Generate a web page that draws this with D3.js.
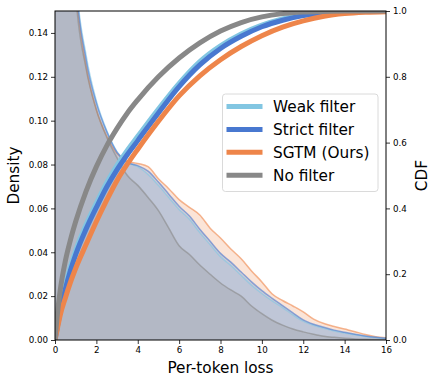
<!DOCTYPE html>
<html>
<head>
<meta charset="utf-8">
<script src="https://cdn.jsdelivr.net/npm/d3@7"></script>
<style>
  body { margin: 0; background: #fff; }
  svg { font-family: "DejaVu Sans", sans-serif; }
</style>
</head>
<body>
<svg id="chart" width="436" height="383"></svg>
<script>
// DATA
const seriesNames = ['Weak filter', 'Strict filter', 'SGTM (Ours)', 'No filter'];
const seriesColors = ['#82c6e2', '#4878d0', '#ee854a', '#888888'];

// density curves (left axis)
const lossGrid = [0, 0.5, 1, 1.5, 2, 2.5, 3, 3.5, 4, 4.5, 5, 5.5, 6, 6.5, 7, 7.5, 8,
    8.5, 9, 9.5, 10, 10.5, 11, 11.5, 12, 12.5, 13, 13.5, 14, 14.5, 15, 15.5, 16];
const densWeak = [0.62, 0.29, 0.167, 0.13, 0.109, 0.0955, 0.0858, 0.081, 0.079, 0.0755, 0.0705,
    0.065, 0.0595, 0.055, 0.049, 0.0435, 0.038, 0.034, 0.0295, 0.025, 0.0212, 0.0178, 0.0148,
    0.0115, 0.0086, 0.0067, 0.0053, 0.0041, 0.0032, 0.0024, 0.0016, 0.0011, 0.0007];
const densStrict = [0.6, 0.28, 0.165, 0.128, 0.108, 0.095, 0.0855, 0.081, 0.0795, 0.077, 0.072,
    0.0665, 0.061, 0.0565, 0.0505, 0.045, 0.0395, 0.0355, 0.031, 0.0265, 0.0225, 0.019, 0.0157,
    0.0124, 0.0092, 0.0072, 0.0058, 0.0045, 0.0035, 0.0026, 0.0018, 0.0012, 0.0008];
const densSGTM = [0.4, 0.24, 0.16, 0.125, 0.105, 0.093, 0.085, 0.0815, 0.0805, 0.079, 0.0735,
    0.069, 0.064, 0.0605, 0.057, 0.051, 0.0465, 0.0415, 0.037, 0.0315, 0.0265, 0.021, 0.018,
    0.0155, 0.0128, 0.0095, 0.0075, 0.0062, 0.005, 0.0038, 0.0025, 0.0015, 0.001];
const densNone = [0.9, 0.3, 0.158, 0.124, 0.105, 0.0925, 0.083, 0.075, 0.0705, 0.065, 0.059,
    0.051, 0.043, 0.039, 0.0342, 0.030, 0.026, 0.0228, 0.020, 0.0155, 0.012, 0.009, 0.0068,
    0.005, 0.0037, 0.0026, 0.0017, 0.0012, 0.0008, 0.0005, 0.0003, 0.0002, 0.0001];

// cumulative curves (right axis)
const cdfGrid = [0, 0.1, 0.25, 0.5, 0.75, 1, 1.5, 2, 2.5, 3, 3.5, 4, 5, 6, 7, 8, 9, 10,
    11, 12, 13, 14, 15, 16];
const cdfWeak = [0, 0.04, 0.093, 0.165, 0.224, 0.272, 0.35, 0.416, 0.478, 0.531, 0.577, 0.619,
    0.702, 0.78, 0.846, 0.894, 0.93, 0.957, 0.976, 0.989, 0.995, 0.998, 0.9995, 1.0];
const cdfStrict = [0, 0.035, 0.085, 0.155, 0.212, 0.26, 0.337, 0.403, 0.465, 0.518, 0.564, 0.606,
    0.69, 0.77, 0.836, 0.886, 0.923, 0.952, 0.972, 0.986, 0.994, 0.998, 0.9995, 1.0];
const cdfSGTM = [0, 0.03, 0.075, 0.128, 0.176, 0.218, 0.29, 0.36, 0.425, 0.485, 0.535, 0.58,
    0.665, 0.742, 0.803, 0.852, 0.892, 0.925, 0.951, 0.97, 0.984, 0.992, 0.996, 0.998];
const cdfNone = [0, 0.07, 0.15, 0.24, 0.305, 0.36, 0.452, 0.527, 0.59, 0.643, 0.69, 0.73,
    0.8, 0.857, 0.903, 0.939, 0.965, 0.982, 0.992, 0.997, 0.999, 1.0, 1.0, 1.0];

// ticks
const xTicks = [0, 2, 4, 6, 8, 10, 12, 14, 16];
const densTicks = [0, 0.02, 0.04, 0.06, 0.08, 0.10, 0.12, 0.14];
const cdfTicks = [0, 0.2, 0.4, 0.6, 0.8, 1.0];

const svg = d3.select('#chart');
const margin = { top: 11, right: 50, bottom: 43, left: 55 };
const width = +svg.attr('width') - margin.left - margin.right;
const height = +svg.attr('height') - margin.top - margin.bottom;

const g = svg.append('g').attr('transform', `translate(${margin.left},${margin.top})`);

// SCALES
const x = d3.scaleLinear().domain([0, 16]).range([0, width]);
const yDens = d3.scaleLinear().domain([0, 0.15]).range([height, 0]);
const yCdf = d3.scaleLinear().domain([0, 1]).range([height, 0]);

g.append('clipPath').attr('id', 'plot-clip')
    .append('rect').attr('width', width).attr('height', height);

const plot = g.append('g').attr('clip-path', 'url(#plot-clip)');

// DENSITY FILLS + LINES
const densSeries = [densSGTM, densWeak, densStrict, densNone];
const densColors = [seriesColors[2], seriesColors[0], seriesColors[1], seriesColors[3]];

const area = d3.area()
    .x((d, i) => x(lossGrid[i]))
    .y0(yDens(0))
    .y1(d => yDens(d))
    .curve(d3.curveMonotoneX);

const densLine = d3.line()
    .x((d, i) => x(lossGrid[i]))
    .y(d => yDens(d))
    .curve(d3.curveMonotoneX);

densSeries.forEach((s, k) => {
    plot.append('path')
        .attr('d', area(s))
        .attr('fill', densColors[k])
        .attr('fill-opacity', 0.22);
});
densSeries.forEach((s, k) => {
    plot.append('path')
        .attr('d', densLine(s))
        .attr('fill', 'none')
        .attr('stroke', densColors[k])
        .attr('stroke-opacity', 0.6)
        .attr('stroke-width', 1.5);
});

// CDF LINES
const cdfLine = d3.line()
    .x((d, i) => x(cdfGrid[i]))
    .y(d => yCdf(d))
    .curve(d3.curveMonotoneX);

[cdfWeak, cdfStrict, cdfSGTM, cdfNone].forEach((s, k) => {
    plot.append('path')
        .attr('d', cdfLine(s))
        .attr('fill', 'none')
        .attr('stroke', seriesColors[k])
        .attr('stroke-width', 5);
});

// AXES
const axisFont = 8.7;
const xAxis = g.append('g')
    .attr('transform', `translate(0,${height})`)
    .call(d3.axisBottom(x).tickValues(xTicks).tickSize(4).tickPadding(3));
const yAxis = g.append('g')
    .call(d3.axisLeft(yDens).tickValues(densTicks).tickFormat(d3.format('.2f')).tickSize(4).tickPadding(3));
const yAxisR = g.append('g')
    .attr('transform', `translate(${width},0)`)
    .call(d3.axisRight(yCdf).tickValues(cdfTicks).tickFormat(d3.format('.1f')).tickSize(4).tickPadding(3));

[xAxis, yAxis, yAxisR].forEach(a => {
    a.select('.domain').remove();
    a.selectAll('text').attr('font-size', axisFont).attr('fill', '#000')
        .attr('font-family', '"DejaVu Sans", sans-serif');
    a.selectAll('line').attr('stroke', '#000').attr('stroke-width', 0.8);
});

// FRAME
g.append('rect')
    .attr('width', width).attr('height', height)
    .attr('fill', 'none').attr('stroke', '#000').attr('stroke-width', 1);

// LABELS
const labelFont = 15.3;
g.append('text')
    .attr('x', width / 2).attr('y', height + 33)
    .attr('text-anchor', 'middle').attr('font-size', labelFont)
    .text('Per-token loss');
g.append('text')
    .attr('transform', `translate(${-36},${height / 2}) rotate(-90)`)
    .attr('text-anchor', 'middle').attr('font-size', labelFont)
    .text('Density');
g.append('text')
    .attr('transform', `translate(${width + 41},${height / 2}) rotate(-90)`)
    .attr('text-anchor', 'middle').attr('font-size', labelFont)
    .text('CDF');

// LEGEND
const legend = g.append('g').attr('transform', `translate(${222.5 - margin.left},${94 - margin.top})`);
legend.append('rect')
    .attr('width', 155.5).attr('height', 97.5)
    .attr('rx', 3)
    .attr('fill', '#fff').attr('fill-opacity', 0.8)
    .attr('stroke', '#d0d0d0').attr('stroke-width', 0.8);

seriesNames.forEach((name, i) => {
    const row = legend.append('g').attr('transform', `translate(0,${12.5 + i * 22.9})`);
    row.append('line')
        .attr('x1', 4).attr('x2', 40)
        .attr('stroke', seriesColors[i]).attr('stroke-width', 5);
    row.append('text')
        .attr('x', 50.5).attr('y', 5.3)
        .attr('font-size', labelFont)
        .text(name);
});
</script>
</body>
</html>
